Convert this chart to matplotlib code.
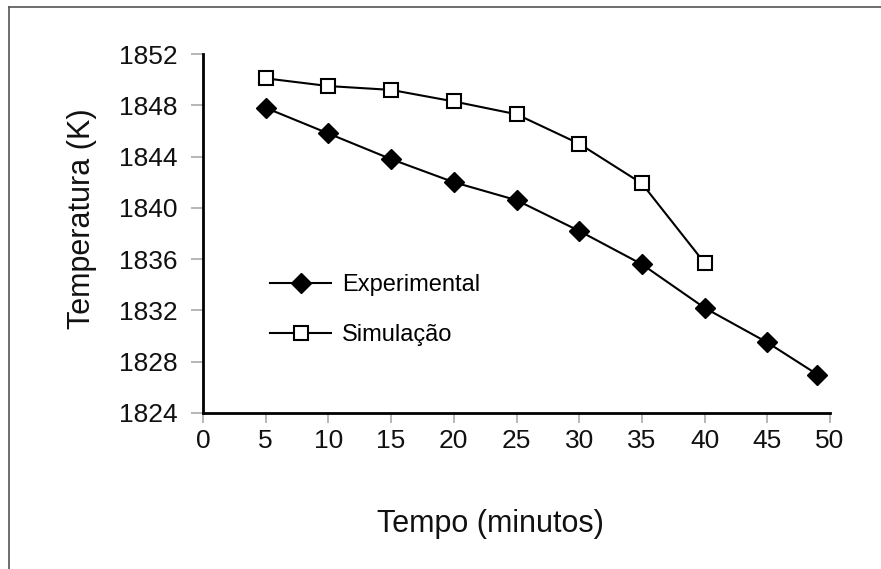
import matplotlib
matplotlib.use("Agg")
import matplotlib.pyplot as plt
from matplotlib.lines import Line2D

plt.rcParams['font.family'] = ['Liberation Sans', 'DejaVu Sans']

tempo_exp = [5, 10, 15, 20, 25, 30, 35, 40, 45, 49]
temp_exp = [1847.8, 1845.8, 1843.8, 1842.0, 1840.6, 1838.2, 1835.6, 1832.2, 1829.5, 1827.0]
tempo_sim = [5, 10, 15, 20, 25, 30, 35, 40]
temp_sim = [1850.1, 1849.5, 1849.2, 1848.3, 1847.3, 1845.0, 1841.9, 1835.7]
xticks = list(range(0, 55, 5))
yticks = list(range(1824, 1856, 4))

W, H = 881, 569
x0, x1, y0, y1 = 203, 830, 413, 54
fig = plt.figure(figsize=(W / 100, H / 100), dpi=100)
ax = fig.add_axes([x0 / W, 1 - y0 / H, (x1 - x0) / W, (y0 - y1) / H])

ax.plot(tempo_exp, temp_exp, color='black', lw=1.5, marker='D', ms=10,
        mfc='black', mec='black', label='Experimental')
ax.plot(tempo_sim, temp_sim, color='black', lw=1.5, marker='s', ms=9.5,
        mfc='white', mec='black', mew=1.5, label='Simulação')

ax.set_xlim(0, 50)
ax.set_ylim(1824, 1852)
ax.set_xticks(xticks)
ax.set_yticks(yticks)
ax.tick_params(axis='both', direction='out', color='#aaaaaa', width=1.2,
               labelsize=19, labelcolor='#111111')
ax.tick_params(axis='y', length=8.5, pad=10)
ax.tick_params(axis='x', length=7.5, pad=4)
for s in ['top', 'right']:
    ax.spines[s].set_visible(False)
for s in ['left', 'bottom']:
    ax.spines[s].set_linewidth(2)
    ax.spines[s].set_color('black')

ax.set_xlabel('Tempo (minutos)', fontsize=22, va='center', color='#111111')
ax.xaxis.set_label_coords((490 - x0) / (x1 - x0), -(524 - y0) / (y0 - y1))
ax.set_ylabel('Temperatura (K)', fontsize=22, va='center', color='#111111')
ax.yaxis.set_label_coords(-(x0 - 82) / (x1 - x0), (y0 - 219) / (y0 - y1))

ax.legend(loc='upper left', bbox_to_anchor=((270 - x0) / (x1 - x0), (y0 - 274) / (y0 - y1)),
          frameon=False, fontsize=17, handlelength=2.6, handletextpad=0.45,
          labelspacing=1.2, borderpad=0, borderaxespad=0)

fig.add_artist(Line2D([9 / W, 1], [1 - 7 / H, 1 - 7 / H], color='#555555', lw=1.2,
                      transform=fig.transFigure))
fig.add_artist(Line2D([9 / W, 9 / W], [0, 1 - 7 / H], color='#555555', lw=1.2,
                      transform=fig.transFigure))

fig.savefig('out.png', dpi=100)
